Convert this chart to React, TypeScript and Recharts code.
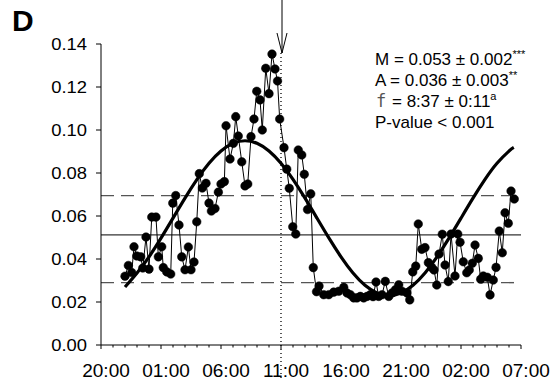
import React from 'react';
import { ComposedChart, Line, XAxis, YAxis, ReferenceLine } from 'recharts';

// Hours elapsed since 20:00 on the first day
const obsHours = [
  2.0, 2.28, 2.56, 2.75, 2.98, 3.31, 3.48, 3.75, 4.0, 4.23, 4.58, 4.78, 5.06, 5.19, 5.48, 5.81, 5.98,
  6.23, 6.5, 6.73, 7.0, 7.28, 7.5, 7.75, 7.98, 8.19, 8.44, 8.75, 9.0, 9.2, 9.5, 9.78, 10.0, 10.28,
  10.42, 10.75, 11.03, 11.23, 11.44, 11.73, 12.0, 12.23, 12.5, 12.75, 12.98, 13.25, 13.44, 13.73,
  14.0, 14.25, 14.5, 14.71, 14.89, 15.25, 15.48, 15.69, 15.98, 16.23, 16.44, 16.73, 16.94, 17.21,
  17.48, 17.69, 17.96, 18.17, 18.56, 18.98, 19.39, 19.81, 20.23, 20.5, 20.78, 21.06, 21.33, 21.61,
  21.89, 22.17, 22.44, 22.67, 22.92, 23.14, 23.42, 23.69, 23.98, 24.25, 24.53, 24.81, 25.08, 25.5,
  25.73, 25.98, 26.23, 26.44, 26.73, 27.0, 27.28, 27.56, 27.75, 27.98, 28.17, 28.44, 28.67, 28.94,
  29.17, 29.5, 29.73, 29.92, 30.19, 30.48, 30.69, 30.94, 31.17, 31.44, 31.64, 31.86, 32.19, 32.42,
  32.69, 32.92, 33.19, 33.44, 33.67, 33.94, 34.17, 34.44,
];
const obsValues = [
  0.032, 0.037, 0.0337, 0.0457, 0.0414, 0.041, 0.0358, 0.0502, 0.0353, 0.0595, 0.0595, 0.041, 0.0457,
  0.036, 0.034, 0.033, 0.066, 0.0695, 0.0558, 0.041, 0.035, 0.0456, 0.035, 0.0386, 0.0573, 0.0797,
  0.073, 0.0752, 0.066, 0.0623, 0.0635, 0.0711, 0.0749, 0.076, 0.102, 0.0865, 0.0938, 0.1062, 0.0972,
  0.0852, 0.074, 0.0749, 0.0969, 0.1051, 0.118, 0.114, 0.1, 0.1287, 0.1169, 0.1353, 0.1284, 0.1228,
  0.1051, 0.0918, 0.0818, 0.0729, 0.055, 0.0516, 0.0907, 0.0884, 0.0794, 0.063, 0.0703, 0.036, 0.0248,
  0.0274, 0.0234, 0.0234, 0.0246, 0.025, 0.0268, 0.0242, 0.0234, 0.0219, 0.0219, 0.0226, 0.0219,
  0.0226, 0.0234, 0.0225, 0.0293, 0.0226, 0.0234, 0.0296, 0.0226, 0.0242, 0.0257, 0.028, 0.025,
  0.0242, 0.021, 0.034, 0.0367, 0.0563, 0.0445, 0.0453, 0.0383, 0.0361, 0.0349, 0.0279, 0.0423,
  0.0515, 0.0372, 0.0295, 0.0516, 0.0321, 0.0516, 0.0478, 0.0387, 0.0336, 0.0349, 0.038, 0.0465,
  0.0403, 0.0306, 0.0321, 0.0315, 0.0233, 0.0302, 0.0361, 0.053, 0.0429, 0.0615, 0.0566, 0.0716,
  0.0679,
];

// Fitted cosinor curve
const fitHours = [
  2, 3, 4, 5, 6, 7, 8, 9, 10, 11, 12, 13, 14, 15, 16, 17, 18, 19, 20, 21, 22, 23, 24, 25, 26, 27,
  28, 29, 30, 31, 32, 33, 34, 34.4,
];
const fitValues = [
  0.027, 0.0335, 0.041, 0.0497, 0.059, 0.0683, 0.077, 0.0845, 0.0902, 0.0938, 0.095, 0.0938, 0.0902,
  0.0845, 0.077, 0.0683, 0.059, 0.0497, 0.041, 0.0335, 0.0278, 0.0242, 0.023, 0.0242, 0.0278,
  0.0335, 0.041, 0.0497, 0.059, 0.0683, 0.077, 0.0845, 0.0902, 0.0919,
];

const xTickHours = Array.from({ length: 36 }, (_, i) => i);
const xMajorLabels = ['20:00', '01:00', '06:00', '11:00', '16:00', '21:00', '02:00', '07:00'];
const yTicks = [0, 0.02, 0.04, 0.06, 0.08, 0.1, 0.12, 0.14];

const upperLevel = 0.0695;
const meanLevel = 0.0512;
const lowerLevel = 0.029;
const markerHour = 15;

const statLines = [
  { main: 'M = 0.053 ± 0.002', sup: '***' },
  { main: 'A = 0.036 ± 0.003', sup: '**' },
  { main: '= 8:37 ± 0:11', sup: 'a', symbol: 'f' },
  { main: 'P-value < 0.001', sup: '' },
];

const obsData = obsHours.map((h, i) => ({ h, v: obsValues[i] }));
const fitData = fitHours.map((h, i) => ({ h, v: fitValues[i] }));

const FONT = '"Liberation Sans", Arial, sans-serif';

const XTick = (props: any) => {
  const { x, y, payload } = props;
  const major = payload.value % 5 === 0;
  const label = major ? xMajorLabels[payload.value / 5] : '';
  return (
    <g>
      <line x1={x} x2={x} y1={y} y2={y + (major ? 4 : 2.5)} stroke="#000" strokeWidth={1} />
      {major && (
        <text x={x + 5} y={y + 31.5} textAnchor="middle" fontSize={19} fontFamily={FONT} fill="#000">
          {label}
        </text>
      )}
    </g>
  );
};

const YTick = (props: any) => {
  const { x, y, payload } = props;
  return (
    <g>
      <line x1={x - 5} x2={x} y1={y} y2={y} stroke="#000" strokeWidth={1} />
      <text
        transform={`translate(${x - 14},${y + 6}) scale(1.15,1)`}
        textAnchor="end"
        fontSize={16}
        fontFamily={FONT}
        fill="#000"
      >
        {payload.value.toFixed(2)}
      </text>
    </g>
  );
};

const MarkerShape = (p: any) => {
  const x = p.x1;
  const top = Math.min(p.y1, p.y2);
  const bottom = Math.max(p.y1, p.y2);
  return (
    <g>
      <line x1={x} x2={x} y1={top + 9} y2={bottom + 36} stroke="#000" strokeWidth={1.3} strokeDasharray="1 3" />
      <line x1={x + 1} x2={x + 1} y1={top - 44} y2={top + 9} stroke="#000" strokeWidth={1} />
      <polyline
        points={`${x - 4},${top - 11} ${x + 1},${top + 9} ${x + 6},${top - 11}`}
        fill="none"
        stroke="#000"
        strokeWidth={1}
      />
    </g>
  );
};

export default function App() {
  return (
    <div style={{ position: 'absolute', left: 0, top: 0, width: 559, height: 387, background: '#fff' }}>
      <ComposedChart
        width={559}
        height={387}
        margin={{ top: 44, right: 38, bottom: 12, left: 41 }}
      >
        <XAxis
          type="number"
          dataKey="h"
          domain={[0, 35]}
          ticks={xTickHours}
          interval={0}
          allowDataOverflow
          tickLine={false}
          tickSize={0}
          tickMargin={0}
          tick={<XTick />}
          axisLine={{ stroke: '#000', strokeWidth: 1 }}
          height={30}
        />
        <YAxis
          type="number"
          domain={[0, 0.14]}
          ticks={yTicks}
          interval={0}
          allowDataOverflow
          tickLine={false}
          tickSize={0}
          tickMargin={0}
          tick={<YTick />}
          axisLine={{ stroke: '#000', strokeWidth: 1 }}
          width={60}
        />
        <ReferenceLine y={upperLevel} stroke="#555" strokeWidth={1.4} strokeDasharray="13 7" />
        <ReferenceLine y={meanLevel} stroke="#000" strokeWidth={1} />
        <ReferenceLine y={lowerLevel} stroke="#555" strokeWidth={1.4} strokeDasharray="13 7" />
        <ReferenceLine x={markerHour} shape={MarkerShape} />
        <Line
          data={obsData}
          dataKey="v"
          type="linear"
          stroke="#000"
          strokeWidth={1}
          dot={{ r: 4.3, fill: '#000', stroke: '#000', strokeWidth: 0.5 }}
          isAnimationActive={false}
        />
        <Line
          data={fitData}
          dataKey="v"
          type="natural"
          stroke="#000"
          strokeWidth={3.2}
          dot={false}
          isAnimationActive={false}
        />
      </ComposedChart>
      <svg
        width={559}
        height={387}
        style={{ position: 'absolute', left: 0, top: 0, pointerEvents: 'none' }}
      >
        <text x={12} y={31} fontSize={30} fontWeight="bold" fontFamily={FONT} fill="#000">
          D
        </text>
        {statLines.map((line, i) => {
          const baselines = [65, 86, 107, 128];
          const y = baselines[i];
          return (
            <g key={i}>
              {line.symbol && (
                <text x={376} y={y} fontSize={17} fontFamily='"DejaVu Sans Mono", monospace' fill="#555">
                  {line.symbol}
                </text>
              )}
              <text x={line.symbol ? 392 : 375} y={y} fontSize={17} fontFamily={FONT} fill="#000">
                {line.main}
                {line.sup && (
                  <tspan fontSize={11} dy={-7}>
                    {line.sup}
                  </tspan>
                )}
              </text>
            </g>
          );
        })}
      </svg>
    </div>
  );
}
